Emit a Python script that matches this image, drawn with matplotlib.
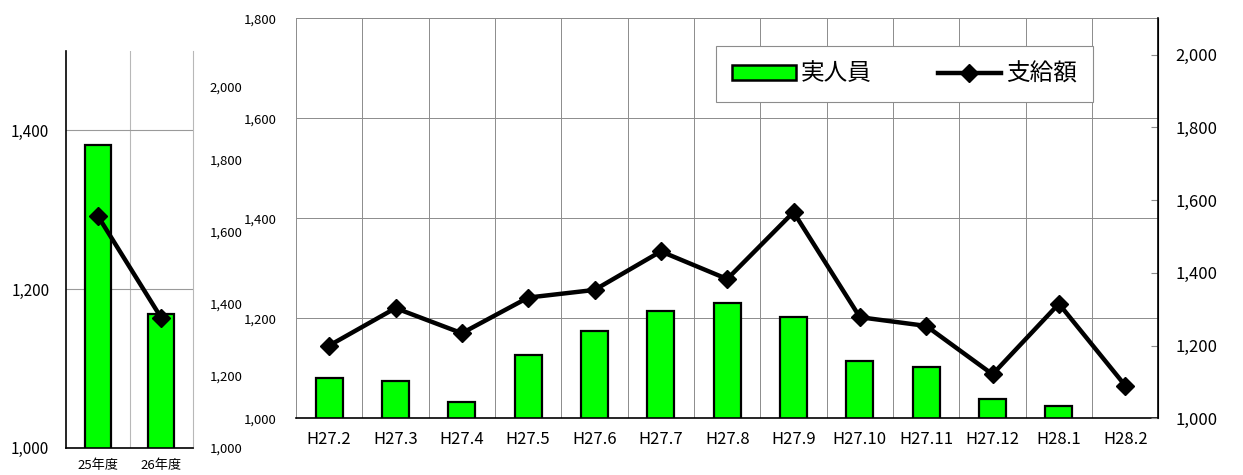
import numpy as np
import matplotlib
matplotlib.use("Agg")
import matplotlib.pyplot as plt
from matplotlib.patches import Patch
from matplotlib.lines import Line2D
from matplotlib.ticker import FuncFormatter, FixedLocator

plt.rcParams['font.family'] = ['Noto Sans CJK JP', 'DejaVu Sans']

# yearly summary (left panel)
years = ['25年度', '26年度']
year_people = [1382, 1169]
year_amount = [1643, 1360]

# monthly data (main panel)
months = ['H27.2', 'H27.3', 'H27.4', 'H27.5', 'H27.6', 'H27.7', 'H27.8',
          'H27.9', 'H27.10', 'H27.11', 'H27.12', 'H28.1', 'H28.2']
month_people = [1081, 1075, 1033, 1127, 1175, 1215, 1230,
                1202, 1114, 1102, 1038, 1025, np.nan]
month_amount = [1200, 1303, 1234, 1332, 1353, 1459, 1383,
                1567, 1278, 1254, 1121, 1315, 1090]

GREEN = '#00ff00'
comma = FuncFormatter(lambda v, p: f'{int(v):,}')

fig = plt.figure(figsize=(12.43, 4.75), dpi=100)

# ---- left panel ----
ax1 = fig.add_axes([66 / 1243, 27.3 / 475, 127 / 1243, 396.7 / 475])
x1 = np.arange(len(years))
ax1.bar(x1, year_people, width=0.41, color=GREEN,
        edgecolor='black', linewidth=1.6, zorder=2)
ax1.set_ylim(1000, 1500)
ax1.set_xlim(-0.5, 1.5)
ax1.yaxis.set_major_locator(FixedLocator([1000, 1200, 1400]))
ax1.yaxis.set_major_formatter(comma)
ax1.set_xticks(x1)
ax1.set_xticklabels(years, fontsize=9.5)
ax1.xaxis.set_minor_locator(FixedLocator([0.5]))
ax1.grid(axis='y', color='#9a9a9a', linewidth=0.8)
ax1.grid(axis='x', which='minor', color='#b8b8b8', linewidth=0.8)
ax1.tick_params(axis='y', length=0, pad=12, labelsize=11)
ax1.tick_params(axis='x', which='both', length=0, pad=8)
ax1.spines['top'].set_visible(False)
ax1.spines['right'].set_color('#b8b8b8')
ax1.spines['left'].set_linewidth(1.2)
ax1.spines['bottom'].set_linewidth(1.2)
ax1.set_axisbelow(True)

ax1r = ax1.twinx()
ax1r.plot(x1, year_amount, color='black', linewidth=3.2, marker='D',
          markersize=9, zorder=3)
ax1r.set_ylim(1000, 2100)
ax1r.yaxis.set_major_locator(FixedLocator(np.arange(1000, 2001, 200)))
ax1r.yaxis.set_major_formatter(comma)
ax1r.tick_params(axis='y', length=0, pad=12, labelsize=9.5)
for s in ax1r.spines.values():
    s.set_visible(False)

# ---- main panel ----
ax2 = fig.add_axes([296 / 1243, 56.7 / 475, 862.4 / 1243, 400 / 475])
x2 = np.arange(len(months))
ax2.bar(x2, month_people, width=0.41, color=GREEN,
        edgecolor='black', linewidth=1.6, zorder=2)
ax2.set_ylim(1000, 1800)
ax2.set_xlim(-0.5, len(months) - 0.5)
ax2.yaxis.set_major_locator(FixedLocator(np.arange(1000, 1801, 200)))
ax2.yaxis.set_major_formatter(comma)
ax2.set_xticks(x2)
ax2.set_xticklabels(months, fontsize=12)
ax2.xaxis.set_minor_locator(FixedLocator(np.arange(0.5, len(months) - 0.5, 1)))
ax2.grid(axis='y', color='#8c8c8c', linewidth=0.7)
ax2.grid(axis='x', which='minor', color='#8c8c8c', linewidth=0.7)
ax2.tick_params(axis='y', length=0, pad=14, labelsize=9.5)
ax2.tick_params(axis='x', which='both', length=0, pad=9)
ax2.spines['top'].set_color('#8c8c8c')
ax2.spines['top'].set_linewidth(0.7)
ax2.spines['left'].set_color('#8c8c8c')
ax2.spines['left'].set_linewidth(0.7)
ax2.spines['bottom'].set_linewidth(1.2)
ax2.set_axisbelow(True)

ax2r = ax2.twinx()
ax2r.plot(x2, month_amount, color='black', linewidth=3.2, marker='D',
          markersize=9, zorder=3)
ax2r.set_ylim(1000, 2100)
ax2r.yaxis.set_major_locator(FixedLocator(np.arange(1000, 2001, 200)))
ax2r.yaxis.set_major_formatter(comma)
ax2r.tick_params(axis='y', direction='in', length=5, color='#8c8c8c',
                 pad=12, labelsize=12)
ax2r.spines['right'].set_linewidth(1.2)
for k in ['top', 'left', 'bottom']:
    ax2r.spines[k].set_visible(False)

handles = [Patch(facecolor=GREEN, edgecolor='black', linewidth=1.8),
           Line2D([], [], color='black', linewidth=3.2, marker='D', markersize=9)]
leg = ax2r.legend(handles, ['実人員', '支給額'], ncol=2, loc='center',
                  bbox_to_anchor=(904.5 / 1243, 1 - 74 / 475),
                  bbox_transform=fig.transFigure, fontsize=17,
                  fancybox=False, framealpha=1, edgecolor='#8c8c8c',
                  handlelength=2.7, handleheight=0.6, columnspacing=2.8,
                  handletextpad=0.2, borderpad=0.7, borderaxespad=0)
leg.get_frame().set_linewidth(0.8)

fig.savefig('out.png', dpi=100)
